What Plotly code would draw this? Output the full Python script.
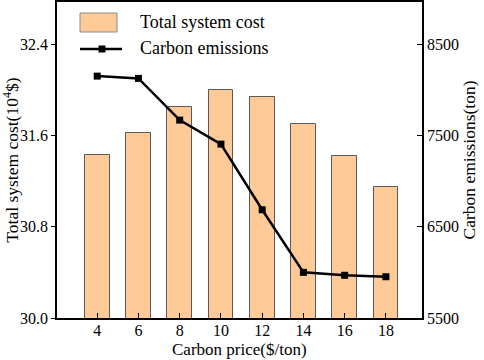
import plotly.graph_objects as go

carbon_price = [4, 6, 8, 10, 12, 14, 16, 18]
total_cost = [31.43, 31.62, 31.85, 32.00, 31.94, 31.70, 31.42, 31.15]
emissions = [8150, 8125, 7668, 7405, 6686, 6000, 5968, 5952]

FONT = "Liberation Serif, Times New Roman, serif"
BAR_COLOR = "#FDCA98"
BAR_EDGE = "#5a5a5a"

W, H = 484, 360
L, R, T, B = 57, 62, 2, 42
PW, PH = W - L - R, H - T - B


def px(x):
    return (x - L) / PW


def py(y):
    return 1 - (y - T) / PH


fig = go.Figure()
fig.add_trace(go.Bar(
    x=carbon_price, y=total_cost, name="Total system cost",
    width=1.2, base=0,
    marker=dict(color=BAR_COLOR, line=dict(color=BAR_EDGE, width=1)),
    yaxis="y",
))
fig.add_trace(go.Scatter(
    x=carbon_price, y=emissions, name="Carbon emissions",
    mode="lines+markers",
    line=dict(color="black", width=2.5),
    marker=dict(symbol="square", size=7, color="black"),
    yaxis="y2",
))

# custom legend (matching the large swatches of the reference)
shapes = [
    dict(type="rect", xref="paper", yref="paper",
         x0=px(80), x1=px(117), y0=py(32), y1=py(13),
         fillcolor=BAR_COLOR, line=dict(color="#8a8a8a", width=1)),
    dict(type="line", xref="paper", yref="paper",
         x0=px(80), x1=px(122), y0=py(49), y1=py(49),
         line=dict(color="black", width=2.5)),
    dict(type="rect", xref="paper", yref="paper",
         x0=px(98.5), x1=px(105.5), y0=py(52.5), y1=py(45.5),
         fillcolor="black", line=dict(color="black", width=0)),
]
annotations = [
    dict(text="Total system cost", xref="paper", yref="paper",
         x=px(138), y=py(22), xanchor="left", yanchor="middle",
         showarrow=False, font=dict(size=18)),
    dict(text="Carbon emissions", xref="paper", yref="paper",
         x=px(138), y=py(48), xanchor="left", yanchor="middle",
         showarrow=False, font=dict(size=18)),
    dict(text="Carbon price($/ton)", xref="paper", yref="paper",
         x=0.5, y=py(360), xanchor="center", yanchor="bottom",
         showarrow=False, font=dict(size=17), borderpad=0),
]

tickfont = dict(size=16)

fig.update_layout(
    width=W, height=H,
    margin=dict(l=L, r=R, t=T, b=B),
    paper_bgcolor="white", plot_bgcolor="white",
    font=dict(family=FONT, size=17, color="black"),
    bargap=0,
    showlegend=False,
    shapes=shapes,
    annotations=annotations,
    xaxis=dict(range=[2.05, 19.75], tickvals=carbon_price, tickfont=tickfont,
               ticks="inside", ticklen=5, tickcolor="black",
               ticklabelstandoff=-3,
               showline=True, linecolor="black", linewidth=1.5, mirror=True,
               showgrid=False, zeroline=False, automargin=False),
    yaxis=dict(range=[30, 32.77], tickvals=[30.0, 30.8, 31.6, 32.4],
               ticktext=["30.0", "30.8", "31.6", "32.4"], tickfont=tickfont,
               ticks="outside", ticklen=4, tickcolor="black",
               showline=True, linecolor="black", linewidth=1.5,
               showgrid=False, zeroline=False, automargin=False,
               title=dict(text="Total system cost(10<sup>4</sup>$)", standoff=2, font=dict(size=17.5))),
    yaxis2=dict(range=[5500, 8962], tickvals=[5500, 6500, 7500, 8500], tickfont=tickfont,
                overlaying="y", side="right",
                ticks="inside", ticklen=5, tickcolor="black",
                showline=True, linecolor="black", linewidth=1.5,
                showgrid=False, zeroline=False, automargin=False,
                title=dict(text="Carbon emissions(ton)", standoff=2, font=dict(size=17.5))),
)

fig.write_html("out.html",
               config={"displayModeBar": False},
               post_script="document.body.style.margin='0';document.body.style.overflow='hidden';")
